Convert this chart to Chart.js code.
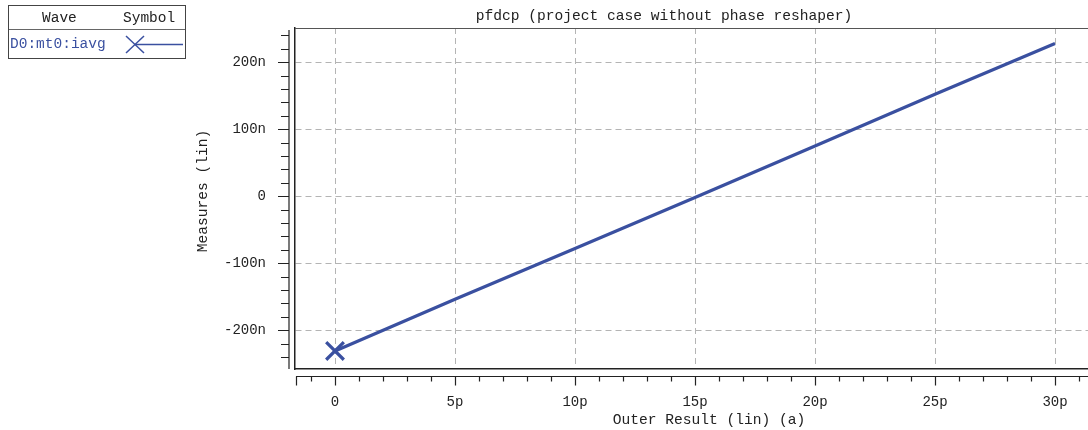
<!DOCTYPE html>
<html>
<head>
<meta charset="utf-8">
<script src="https://cdn.jsdelivr.net/npm/chart.js@4/dist/chart.umd.min.js"></script>
<style>
  html, body { margin: 0; padding: 0; background: #fff; }
  #wrap { position: relative; width: 1088px; height: 430px; }
  #legend {
    position: absolute; left: 8px; top: 5px; width: 176px; height: 52px;
    border: 1px solid #444; font: 14.5px "Liberation Mono", monospace; color: #222;
  }
  #legend .head { height: 23px; border-bottom: 1px solid #666; position: relative; }
  #legend .head span { position: absolute; top: 4px; }
  #legend .row { position: relative; height: 28px; }
  #legend .name { position: absolute; left: 1px; top: 6px; color: #3a50a0; }
  #legend svg { position: absolute; left: 116px; top: 3px; }
</style>
</head>
<body>
<div id="wrap">
  <canvas id="c" width="1088" height="430"></canvas>
  <div id="legend">
    <div class="head"><span style="left:33px">Wave</span><span style="left:114px">Symbol</span></div>
    <div class="row">
      <span class="name">D0:mt0:iavg</span>
      <svg width="58" height="22">
        <line x1="1" y1="3" x2="19" y2="20" stroke="#3a50a0" stroke-width="1.5"/>
        <line x1="19" y1="3" x2="1" y2="20" stroke="#3a50a0" stroke-width="1.5"/>
        <line x1="10" y1="11.5" x2="58" y2="11.5" stroke="#3a50a0" stroke-width="1.5"/>
      </svg>
    </div>
  </div>
</div>
<script>
// values: x in p (a), y in n
const outerResult = [0, 5, 10, 15, 20, 25, 30]
const measures = [-231, -154, -78, -2, 75, 152, 228]

const xTicks = [0, 5, 10, 15, 20, 25, 30]
const yTicks = [-200, -100, 0, 100, 200]

const chartTitle = 'pfdcp (project case without phase reshaper)'
const xTitle = 'Outer Result (lin) (a)'
const yTitle = 'Measures (lin)'

const blue = '#3a50a0'
const font = '"Liberation Mono", monospace'

const fmt = (v, unit) => v === 0 ? '0' : v + unit

const noPad = s => {
  s.paddingTop = s.paddingBottom = s.paddingLeft = s.paddingRight = 0
}

// rulers, frame top and titles
const extras = {
  id: 'extras',
  afterDraw(chart) {
    const { ctx, chartArea: a, scales: { x, y } } = chart
    ctx.save()
    ctx.lineWidth = 1.2

    // top frame line
    ctx.strokeStyle = '#555'
    ctx.beginPath()
    ctx.moveTo(a.left, a.top + 0.5)
    ctx.lineTo(a.right, a.top + 0.5)
    ctx.stroke()

    // y ruler
    ctx.strokeStyle = '#222'
    const rx = a.left - 6
    ctx.beginPath()
    ctx.moveTo(rx, a.top + 2)
    ctx.lineTo(rx, a.bottom)
    for (let v = -240; v <= 240; v += 20) {
      const py = Math.round(y.getPixelForValue(v)) + 0.5
      const len = v % 100 === 0 ? 11 : 8
      ctx.moveTo(rx, py)
      ctx.lineTo(rx - len, py)
    }
    ctx.stroke()

    // x ruler
    const ry = a.bottom + 7.5
    ctx.beginPath()
    ctx.moveTo(a.left + 1, ry)
    ctx.lineTo(a.right, ry)
    ctx.moveTo(a.left + 1.5, ry)
    ctx.lineTo(a.left + 1.5, ry + 9)
    for (let v = -1; v <= 31; v++) {
      const px = Math.round(x.getPixelForValue(v)) + 0.5
      const len = v % 5 === 0 ? 9 : 5
      ctx.moveTo(px, ry)
      ctx.lineTo(px, ry + len)
    }
    ctx.stroke()

    // titles
    ctx.fillStyle = '#222'
    ctx.font = '14.6px ' + font
    ctx.textAlign = 'center'
    ctx.textBaseline = 'middle'
    ctx.fillText(chartTitle, 664, 16)
    ctx.fillText(xTitle, 709, 420)
    ctx.translate(203, 191)
    ctx.rotate(-Math.PI / 2)
    ctx.fillText(yTitle, 0, 0)
    ctx.restore()
  }
}

new Chart(document.getElementById('c'), {
  type: 'line',
  data: {
    datasets: [{
      label: 'D0:mt0:iavg',
      data: outerResult.map((v, i) => ({ x: v, y: measures[i] })),
      borderColor: blue,
      backgroundColor: blue,
      borderWidth: 3.2,
      pointStyle: 'crossRot',
      pointRadius: ctx => ctx.dataIndex === 0 ? 12.5 : 0,
      pointBorderWidth: 3.2,
      pointBorderColor: blue,
      tension: 0
    }]
  },
  options: {
    responsive: false,
    animation: false,
    layout: { autoPadding: false, padding: { top: 28, right: 0, left: 0, bottom: 0 } },
    plugins: { legend: { display: false }, title: { display: false }, tooltip: { enabled: false } },
    scales: {
      x: {
        type: 'linear',
        min: -1.667,
        max: 31.375,
        afterFit: s => { s.height = 61; noPad(s) },
        afterBuildTicks: s => { s.ticks = xTicks.map(v => ({ value: v })) },
        ticks: {
          font: { family: font, size: 14 },
          color: '#222',
          padding: 25,
          maxRotation: 0,
          callback: v => fmt(v, 'p')
        },
        grid: { color: '#b4b4b4', lineWidth: 1, drawTicks: false },
        border: { display: true, color: '#222', width: 1.5, dash: [6, 4] }
      },
      y: {
        type: 'linear',
        min: -258,
        max: 251,
        afterFit: s => { s.width = 295; noPad(s) },
        afterBuildTicks: s => { s.ticks = yTicks.map(v => ({ value: v })) },
        ticks: {
          font: { family: font, size: 14 },
          color: '#222',
          padding: 29,
          callback: v => fmt(v, 'n')
        },
        grid: { color: '#b4b4b4', lineWidth: 1, drawTicks: false },
        border: { display: true, color: '#222', width: 1.5, dash: [6, 4] }
      }
    }
  },
  plugins: [extras]
})
</script>
</body>
</html>
